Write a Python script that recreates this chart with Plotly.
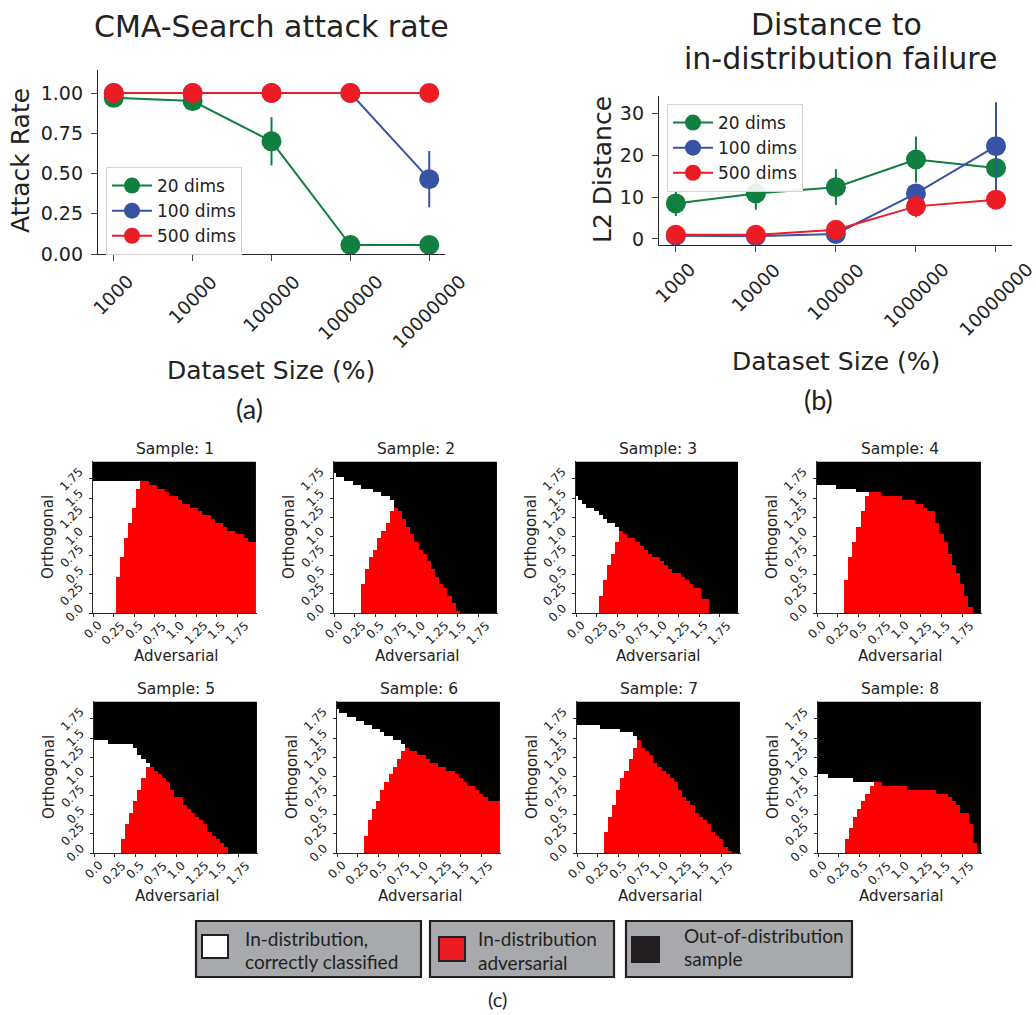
import plotly.graph_objects as go

W, H = 1036, 1015

# ---------------- data: panels (a) and (b) ----------------
DATASET_SIZES = ["1000", "10000", "100000", "1000000", "10000000"]
SERIES_NAMES = ["20 dims", "100 dims", "500 dims"]
SERIES_COLORS = ["#117f3f", "#3953a4", "#ec1c24"]

ATTACK_RATE_20 = [0.97, 0.95, 0.70, 0.056, 0.056]
ATTACK_RATE_100 = [1.0, 1.0, 1.0, 1.0, 0.465]
ATTACK_RATE_500 = [1.0, 1.0, 1.0, 1.0, 1.0]
ATTACK_ERR_20 = [0.0, 0.0, 0.15, 0.0, 0.0]
ATTACK_ERR_100 = [0.0, 0.0, 0.0, 0.0, 0.175]
ATTACK_ERR_500 = [0.0, 0.0, 0.0, 0.0, 0.0]

L2_20 = [8.5, 10.9, 12.4, 19.0, 17.0]
L2_ERR_20 = [3.0, 3.9, 4.3, 5.5, 1.0]
L2_100 = [0.8, 0.65, 1.2, 10.9, 22.2]
L2_ERR_100 = [0.3, 0.3, 0.5, 1.5, 10.5]
L2_500 = [1.0, 1.0, 2.2, 7.8, 9.4]
L2_ERR_500 = [0.3, 0.3, 0.6, 2.6, 2.0]

ATTACK_TICKS = [0.0, 0.25, 0.5, 0.75, 1.0]
L2_TICKS = [0, 10, 20, 30]

# ---------------- data: panel (c) sample maps ----------------
# grid of 40 x 40 cells, step 0.05 along "Adversarial" (columns) and "Orthogonal" (rows)
GRID_N = 40
GRID_STEP = 0.05
HEAT_TICK_VALS = [0.0, 0.25, 0.5, 0.75, 1.0, 1.25, 1.5, 1.75]
HEAT_TICK_TEXT = ["0.0", "0.25", "0.5", "0.75", "1.0", "1.25", "1.5", "1.75"]

# per column: number of in-distribution cells (from the bottom); above is out-of-distribution
S1_TOP = [35,35,35,35,35,35,35,35,35,35,35,35,35,35,34,34,33,33,32,31,31,30,29,29,28,28,27,26,26,25,24,24,23,22,22,21,21,20,19,19]
S2_TOP = [37,36,36,35,35,34,34,33,33,33,32,32,31,31,30,28,27,25,23,21,19,17,16,14,12,10,8,7,5,3,1,0,0,0,0,0,0,0,0,0]
S3_TOP = [31,30,29,28,28,27,26,25,24,24,23,22,21,20,20,19,18,17,16,15,15,14,13,12,11,11,10,9,8,7,7,4,4,0,0,0,0,0,0,0]
S4_TOP = [34,34,34,34,34,33,33,33,33,33,32,32,32,32,32,32,31,31,31,31,31,30,30,30,29,29,28,27,27,24,21,19,16,13,11,8,5,2,0,0]
S5_TOP = [30,30,30,30,29,29,29,29,29,29,28,26,25,24,23,22,21,20,19,17,15,15,13,12,11,10,9,8,6,5,4,3,2,0,0,0,0,0,0,0]
S6_TOP = [38,37,37,36,36,35,35,34,34,33,33,32,31,31,30,30,29,28,27,27,26,26,25,24,24,23,23,22,22,21,20,19,18,18,17,16,15,14,14,14]
S7_TOP = [34,34,34,34,34,34,33,33,33,33,33,32,32,32,31,30,28,27,26,24,23,22,21,20,19,17,15,14,13,11,10,9,8,6,5,4,2,1,0,0]
S8_TOP = [21,21,21,20,20,20,20,20,20,19,19,19,19,19,19,19,18,18,18,18,18,18,17,17,17,17,17,17,17,16,16,16,15,14,13,11,11,8,3,0]

# adversarial (red) region: first column with red, red heights of the ramp columns;
# every column after the ramp is red up to the in-distribution boundary
S1_RED_START, S1_RED_RAMP = 6, [10, 15, 20, 24, 28, 33]
S2_RED_START, S2_RED_RAMP = 7, [8, 12, 15, 17, 20, 22, 24, 27]
S3_RED_START, S3_RED_RAMP = 6, [5, 9, 13, 16, 19]
S4_RED_START, S4_RED_RAMP = 7, [9, 15, 19, 23, 27, 31]
S5_RED_START, S5_RED_RAMP = 7, [4, 8, 11, 14, 17, 20, 23]
S6_RED_START, S6_RED_RAMP = 7, [5, 9, 12, 14, 17, 19, 21, 23, 25, 27]
S7_RED_START, S7_RED_RAMP = 7, [6, 10, 13, 17, 20, 22, 25, 28]
S8_RED_START, S8_RED_RAMP = 7, [4, 7, 10, 12, 14, 16, 18]

SAMPLES = [
    ("Sample: 1", S1_TOP, S1_RED_START, S1_RED_RAMP),
    ("Sample: 2", S2_TOP, S2_RED_START, S2_RED_RAMP),
    ("Sample: 3", S3_TOP, S3_RED_START, S3_RED_RAMP),
    ("Sample: 4", S4_TOP, S4_RED_START, S4_RED_RAMP),
    ("Sample: 5", S5_TOP, S5_RED_START, S5_RED_RAMP),
    ("Sample: 6", S6_TOP, S6_RED_START, S6_RED_RAMP),
    ("Sample: 7", S7_TOP, S7_RED_START, S7_RED_RAMP),
    ("Sample: 8", S8_TOP, S8_RED_START, S8_RED_RAMP),
]

LEGEND_C_LINES = [
    ["In-distribution,", "correctly classified"],
    ["In-distribution", "adversarial"],
    ["Out-of-distribution", "sample"],
]

# ---------------- helpers ----------------
def dx(a, b):
    return [a / W, b / W]


def dy(top, bottom):
    return [1 - bottom / H, 1 - top / H]


def px(a):
    return a / W


def py(b):
    return 1 - b / H


MPL = "DejaVu Sans"
TXT = "#222222"
PAPER_FONT = "Lato"
PAPER_TXT = "#231f20"

fig = go.Figure()
annotations = []
shapes = []

# ---------------- (a) and (b) ----------------
A_BOX = (98, 445, 70, 254)  # left, right, top, bottom (px)
B_BOX = (659, 1012, 96, 245)

for name, color, vals, errs in zip(
    SERIES_NAMES, SERIES_COLORS,
    [ATTACK_RATE_20, ATTACK_RATE_100, ATTACK_RATE_500],
    [ATTACK_ERR_20, ATTACK_ERR_100, ATTACK_ERR_500],
):
    fig.add_trace(go.Scatter(
        x=DATASET_SIZES, y=vals, mode="lines+markers", name=name,
        line=dict(color=color, width=2), marker=dict(size=20, color=color),
        error_y=dict(type="data", array=errs, visible=True, color=color, thickness=2, width=0),
        xaxis="x", yaxis="y", legend="legend", cliponaxis=False, hoverinfo="skip",
    ))

for name, color, vals, errs in zip(
    SERIES_NAMES, SERIES_COLORS,
    [L2_20, L2_100, L2_500],
    [L2_ERR_20, L2_ERR_100, L2_ERR_500],
):
    fig.add_trace(go.Scatter(
        x=DATASET_SIZES, y=vals, mode="lines+markers", name=name,
        line=dict(color=color, width=2), marker=dict(size=20, color=color),
        error_y=dict(type="data", array=errs, visible=True, color=color, thickness=2, width=0),
        xaxis="x2", yaxis="y2", legend="legend2", cliponaxis=False, hoverinfo="skip",
    ))

line_axis_common = dict(
    showgrid=False, zeroline=False, showline=True, linecolor="#262626", linewidth=1.3,
    ticks="outside", ticklen=6, tickwidth=1.2, tickcolor="#444444", automargin=False,
    tickfont=dict(family=MPL, size=19, color=TXT), fixedrange=True,
)

layout = dict(
    template="none",
    width=W, height=H, margin=dict(l=0, r=0, t=0, b=0, pad=0, autoexpand=False),
    paper_bgcolor="white", plot_bgcolor="white", showlegend=True,
    xaxis=dict(domain=dx(A_BOX[0], A_BOX[1]), anchor="y", type="category",
               range=[-0.2, 4.2], showticklabels=False, **line_axis_common),
    yaxis=dict(domain=dy(A_BOX[2], A_BOX[3]), anchor="x", range=[0, 1.143],
               tickvals=ATTACK_TICKS, tickformat=".2f", ticklabelstandoff=4, **line_axis_common),
    xaxis2=dict(domain=dx(B_BOX[0], B_BOX[1]), anchor="y2", type="category",
                range=[-0.21, 4.2], showticklabels=False, **line_axis_common),
    yaxis2=dict(domain=dy(B_BOX[2], B_BOX[3]), anchor="x2", range=[-1.44, 34.2],
                tickvals=L2_TICKS, ticklabelstandoff=4, **line_axis_common),
    legend=dict(x=px(106), y=py(167), xanchor="left", yanchor="top",
                bgcolor="rgba(255,255,255,0.9)", bordercolor="#d4d4d4", borderwidth=1,
                font=dict(family=MPL, size=17, color=TXT), itemwidth=40, tracegroupgap=0),
    legend2=dict(x=px(667), y=py(104), xanchor="left", yanchor="top",
                 bgcolor="rgba(255,255,255,0.9)", bordercolor="#d4d4d4", borderwidth=1,
                 font=dict(family=MPL, size=17, color=TXT), itemwidth=40, tracegroupgap=0),
)

# rotated x tick labels (centred under the ticks, as in the source)
for axref, bottom, shift in (("x", A_BOX[3], 14), ("x2", B_BOX[3], 11)):
    for i, lab in enumerate(DATASET_SIZES):
        annotations.append(dict(
            x=i, xref=axref, y=py(bottom + shift), yref="paper", text=lab, textangle=-45,
            xanchor="center", yanchor="top", showarrow=False,
            font=dict(family=MPL, size=18.5, color=TXT),
        ))

# titles and axis titles for (a)/(b)
annotations += [
    dict(x=px(271), y=py(27), text="CMA-Search attack rate", font=dict(family=MPL, size=30, color=TXT)),
    dict(x=px(836), y=py(24), text="Distance to", font=dict(family=MPL, size=30, color=TXT)),
    dict(x=px(840), y=py(58), text="in-distribution failure", font=dict(family=MPL, size=30, color=TXT)),
    dict(x=px(21), y=py(161), text="Attack Rate", textangle=-90, font=dict(family=MPL, size=25, color=TXT)),
    dict(x=px(271), y=py(370), text="Dataset Size (%)", font=dict(family=MPL, size=25, color=TXT)),
    dict(x=px(602), y=py(170), text="L2 Distance", textangle=-90, font=dict(family=MPL, size=25, color=TXT)),
    dict(x=px(836), y=py(362), text="Dataset Size (%)", font=dict(family=MPL, size=25, color=TXT)),
    dict(x=px(249), y=py(408), text="(a)", font=dict(family=PAPER_FONT, size=27, color=PAPER_TXT)),
    dict(x=px(818), y=py(400), text="(b)", font=dict(family=PAPER_FONT, size=27, color=PAPER_TXT)),
    dict(x=px(497), y=py(999), text="(c)", font=dict(family=PAPER_FONT, size=20, color=PAPER_TXT)),
]

# ---------------- (c) sample maps ----------------
PANEL_BOXES = [
    (93, 257, 461, 613), (334, 498, 461, 613), (576, 739, 461, 613), (817, 982, 461, 613),
    (94, 258, 701, 853), (337, 501, 701, 853), (577, 741, 701, 853), (818, 982, 701, 853),
]
HEAT_COLORSCALE = [
    [0.0, "#ffffff"], [0.333, "#ffffff"],
    [0.333, "#ff0000"], [0.667, "#ff0000"],
    [0.667, "#000000"], [1.0, "#000000"],
]
coords = [k * GRID_STEP for k in range(GRID_N)]
HEAT_RANGE = [0, 1.985]
HEAT_TICK_FONT = dict(family=MPL, size=12, color=TXT)
HEAT_LABEL_FONT = dict(family=MPL, size=15, color=TXT)

for idx, ((title, top, rstart, ramp), box) in enumerate(zip(SAMPLES, PANEL_BOXES)):
    n = idx + 3
    red = []
    for i in range(GRID_N):
        if i < rstart:
            red.append(0)
        elif i < rstart + len(ramp):
            red.append(ramp[i - rstart])
        else:
            red.append(top[i])
    z = []
    for j in range(GRID_N):
        row = []
        for i in range(GRID_N):
            if j >= top[i]:
                row.append(2)
            elif j < red[i]:
                row.append(1)
            else:
                row.append(0)
        z.append(row)
    fig.add_trace(go.Heatmap(
        x=coords, y=coords, z=z, zmin=0, zmax=2, colorscale=HEAT_COLORSCALE,
        showscale=False, hoverinfo="skip", xaxis=f"x{n}", yaxis=f"y{n}",
    ))
    l, r, t, b = box
    heat_axis = dict(
        range=HEAT_RANGE, tickvals=HEAT_TICK_VALS, showticklabels=False,
        ticks="outside", ticklen=3, tickwidth=1, tickcolor="#262626",
        showline=True, linecolor="#262626", linewidth=1, automargin=False,
        showgrid=False, zeroline=False, fixedrange=True,
    )
    layout[f"xaxis{n}"] = dict(domain=dx(l, r), anchor=f"y{n}", **heat_axis)
    layout[f"yaxis{n}"] = dict(domain=dy(t, b), anchor=f"x{n}", **heat_axis)
    for v, lab in zip(HEAT_TICK_VALS, HEAT_TICK_TEXT):
        annotations.append(dict(
            x=v, xref=f"x{n}", y=py(b + 3), yref="paper", text=lab, textangle=-45,
            xanchor="center", yanchor="top", showarrow=False, font=HEAT_TICK_FONT,
        ))
        annotations.append(dict(
            x=px(l - 4), xref="paper", y=v, yref=f"y{n}", text=lab, textangle=-45,
            xanchor="right", yanchor="middle", showarrow=False, font=HEAT_TICK_FONT,
        ))
    cx = (l + r) / 2
    annotations += [
        dict(x=px(cx), y=py(t - 12), text=title, font=dict(family=MPL, size=15.5, color=TXT)),
        dict(x=px(cx + 1), y=py(b + 43), text="Adversarial", font=HEAT_LABEL_FONT),
        dict(x=px(l - 45), y=py((t + b) / 2), text="Orthogonal", textangle=-90, font=HEAT_LABEL_FONT),
    ]

# ---------------- legend of (c) ----------------
LEG_BOXES = [(196, 421), (430, 614), (626, 852)]
LEG_TOP, LEG_BOT = 921, 977
SWATCHES = [((202, 228, 935, 958), "#ffffff"), ((439, 465, 937, 961), "#ed1c24"), ((632, 659, 937, 962), "#231f20")]
TEXT_X = [243, 476, 682]
TEXT_Y = [(938, 961), (938, 962), (935, 958)]

for (l, r), ((sl, sr, st, sb), sc), tx, (ty1, ty2), lines in zip(LEG_BOXES, SWATCHES, TEXT_X, TEXT_Y, LEGEND_C_LINES):
    shapes.append(dict(type="rect", xref="paper", yref="paper", x0=px(l), x1=px(r), y0=py(LEG_BOT), y1=py(LEG_TOP),
                       fillcolor="#a7a9ac", line=dict(color="#231f20", width=2.2), layer="above"))
    shapes.append(dict(type="rect", xref="paper", yref="paper", x0=px(sl), x1=px(sr), y0=py(sb), y1=py(st),
                       fillcolor=sc, line=dict(color="#231f20", width=2), layer="above"))
    for ty, txt in zip((ty1, ty2), lines):
        annotations.append(dict(x=px(tx), y=py(ty), text=txt, xanchor="left", yanchor="middle", showarrow=False,
                                font=dict(family=PAPER_FONT, size=19, color=PAPER_TXT)))

for a in annotations:
    a.setdefault("showarrow", False)
    a.setdefault("xref", "paper")
    a.setdefault("yref", "paper")
    a.setdefault("xanchor", "center")
    a.setdefault("yanchor", "middle")

layout["annotations"] = annotations
layout["shapes"] = shapes
fig.update_layout(**layout)

fig.write_html(
    "out.html",
    config={"displayModeBar": False},
    post_script="document.body.style.margin='0';document.body.style.padding='0';"
                "document.documentElement.style.overflow='hidden';",
)
